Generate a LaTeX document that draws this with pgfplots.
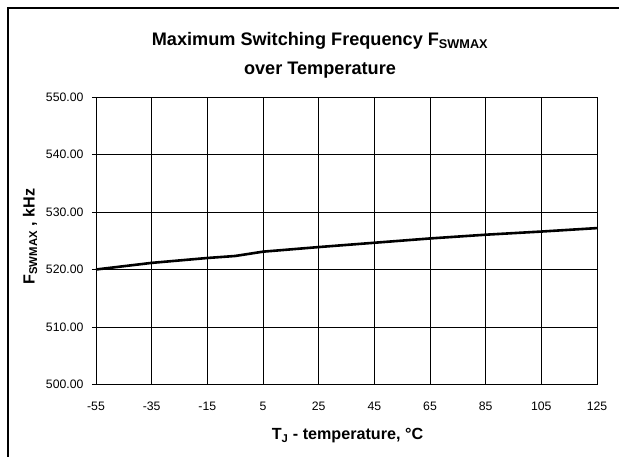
\documentclass[border=0pt]{standalone}
\usepackage{fontspec}
\setmainfont{Liberation Sans}
\usepackage{pgfplots}
\pgfplotsset{compat=1.18}

% measured F_SWMAX vs junction temperature
\pgfplotstableread{
T     f
-55   520.00
-35   521.15
-15   522.00
-5    522.35
5     523.10
25    523.90
45    524.65
65    525.40
85    526.05
105   526.60
125   527.20
}\fswdata

\begin{document}
\begin{tikzpicture}[x=1bp,y=1bp]
% picture frame in pixel-like units, origin at the axis' lower left corner
\useasboundingbox (-96,-72.5) rectangle (523,384.5);
\draw[line width=1.6bp] (-88,-80) -- (-88,376.5) -- (540,376.5);

\begin{axis}[
    at={(0,0)}, anchor=south west,
    scale only axis,
    width=501bp, height=287.5bp,
    xmin=-55, xmax=125,
    ymin=500, ymax=550,
    xtick={-55,-35,-15,5,25,45,65,85,105,125},
    ytick={500,510,520,530,540,550},
    xtick pos=left, ytick pos=left,
    tick align=outside,
    major tick length=4bp,
    grid=major,
    grid style={black, line width=0.8bp},
    axis line style={black, line width=0.8bp},
    tick style={black, line width=0.8bp},
    xtick style={draw=none},
    ticklabel style={font=\fontsize{12.3}{14}\selectfont, text height=8.9bp, text depth=0pt},
    xticklabel style={yshift=-9.5bp},
    yticklabel style={xshift=-5bp, /pgf/number format/.cd, fixed, fixed zerofill, precision=2},
    /pgf/number format/assume math mode=true,
    /pgf/number format/1000 sep={},
]
\addplot[black, line width=2.6bp, no markers] table[x=T, y=f] {\fswdata};
\end{axis}

% title and axis labels
\node[font=\bfseries\fontsize{18.2}{21}\selectfont, anchor=base] at (224,338.8)
    {Maximum Switching Frequency F\textsubscript{SWMAX}};
\node[font=\bfseries\fontsize{18.2}{21}\selectfont, anchor=base] at (224,309.5)
    {over Temperature};
\node[font=\bfseries\fontsize{16.2}{19}\selectfont, anchor=base] at (251.5,-55.5)
    {T\textsubscript{J} - temperature, °C};
\node[font=\bfseries\fontsize{16.2}{19}\selectfont, rotate=90] at (-66,148)
    {F\textsubscript{SWMAX} , kHz};
\end{tikzpicture}
\end{document}
